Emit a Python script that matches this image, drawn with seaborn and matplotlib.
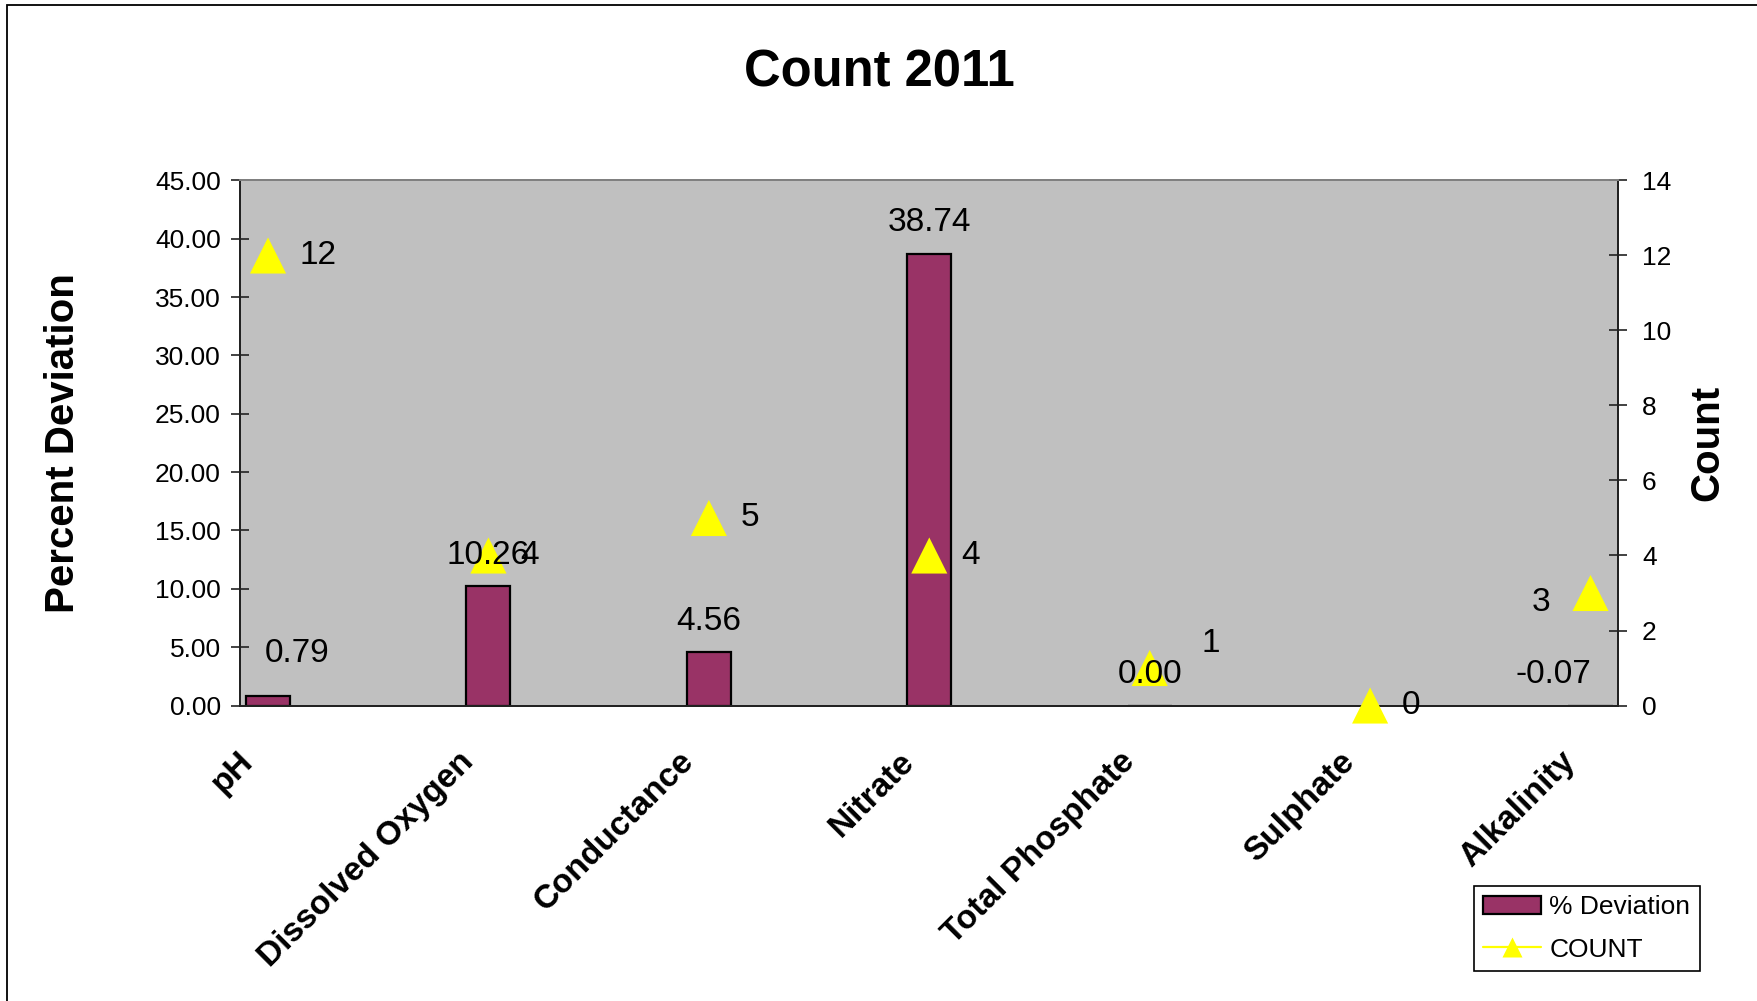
import numpy as np
import pandas as pd
import matplotlib
matplotlib.use("Agg")
import matplotlib.pyplot as plt
import seaborn as sns
from matplotlib.lines import Line2D
from matplotlib.patches import Patch, Rectangle
from matplotlib.transforms import ScaledTranslation

# ---- data -------------------------------------------------------------
parameters = ["pH", "Dissolved Oxygen", "Conductance", "Nitrate",
              "Total Phosphate", "Sulphate", "Alkalinity"]
pct_deviation = [0.79, 10.26, 4.56, 38.74, 0.00, np.nan, -0.07]
counts = [12, 4, 5, 4, 1, 0, 3]

left_ticks = [0, 5, 10, 15, 20, 25, 30, 35, 40, 45]
right_ticks = [0, 2, 4, 6, 8, 10, 12, 14]

# each parameter row in the sheet is followed by three empty rows
ROW_STEP = 4
n_slots = ROW_STEP * (len(parameters) - 1) + 1

df = pd.DataFrame({
    "parameter": parameters,
    "slot": [i * ROW_STEP for i in range(len(parameters))],
    "deviation": pct_deviation,
    "count": counts,
})

# ---- style ------------------------------------------------------------
sns.set_theme(style="white")
plt.rcParams["font.family"] = ["Liberation Sans", "DejaVu Sans"]
plt.rcParams.update({
    "text.color": "black",
    "axes.labelcolor": "black",
    "xtick.color": "black",
    "ytick.color": "black",
})

BAR_COLOR = "#993366"
MARK_COLOR = "#FFFF00"
PLOT_BG = "#C0C0C0"

fig = plt.figure(figsize=(17.58, 10.01), dpi=100)
fig.patch.set_facecolor("white")
ax = fig.add_axes([0.1368, 0.2952, 0.7836, 0.5245])
ax.set_facecolor(PLOT_BG)

sns.barplot(data=df, x="slot", y="deviation", order=list(range(n_slots)),
            width=0.8, color=BAR_COLOR, saturation=1, edgecolor="black",
            linewidth=1.6, errorbar=None, ax=ax, zorder=2)

ax.set_xlim(-0.5, n_slots - 0.5)
ax.set_ylim(0, 45)
ax.set_yticks(left_ticks)
ax.yaxis.set_major_formatter("{x:.2f}")
ax.tick_params(axis="y", direction="inout", length=12.5, width=1.2,
               color="#222222", labelsize=19, pad=8, labelcolor="black")

# category labels sit under each parameter, tick marks between rows
ax.set_xticks(df["slot"])
ax.set_xticklabels(parameters, rotation=45, ha="right", va="center",
                   rotation_mode="anchor", fontsize=24, fontweight="bold",
                   color="black")
ax.tick_params(axis="x", which="major", length=0, pad=37)
ax.set_xticks(np.arange(-0.5, n_slots, 1.0), minor=True)
ax.tick_params(axis="x", which="minor", direction="inout", length=14,
               width=1.2, color="#222222")
shift = ScaledTranslation(-20 / 100, 0, fig.dpi_scale_trans)
for lab in ax.get_xticklabels():
    lab.set_transform(lab.get_transform() + shift)

ax.set_xlabel("")
ax.set_ylabel("Percent Deviation", fontsize=29, fontweight="bold",
              color="black")
ax.yaxis.set_label_coords(-0.115, 0.5)
ax.grid(False)

# ---- count on the secondary axis -------------------------------------
ax2 = ax.twinx()
sns.scatterplot(data=df, x="slot", y="count", marker="^", s=26 ** 2,
                color=MARK_COLOR, edgecolor="none", linewidth=0, ax=ax2,
                zorder=3, clip_on=False)
ax2.set_ylim(0, 14)
ax2.set_yticks(right_ticks)
ax2.tick_params(axis="y", direction="inout", length=12.5, width=1.2,
                color="#222222", labelsize=19, pad=11, labelcolor="black")
ax2.set_xlim(-0.5, n_slots - 0.5)
ax2.set_xlabel("")
ax2.set_ylabel("Count", fontsize=29, fontweight="bold", color="black")
ax2.yaxis.set_label_coords(1.051, 0.5)
ax2.grid(False)

for a in (ax, ax2):
    for side in ("left", "right", "bottom"):
        a.spines[side].set_color("#222222")
        a.spines[side].set_linewidth(1.4)
    a.spines["top"].set_color("#808080")
    a.spines["top"].set_linewidth(1.4)

# ---- value labels ------------------------------------------------------
bar_label_offsets = [(21, 31), (0, 22), (0, 22), (0, 22), (0, 22), (0, 22), (-27, 22)]
for slot, val, (dx, dy) in zip(df["slot"], df["deviation"], bar_label_offsets):
    if np.isnan(val):
        continue
    ax2.annotate(f"{val:.2f}", xy=(slot, max(val, 0)), xycoords=ax.transData,
                 xytext=(dx, dy), textcoords="offset points",
                 ha="center", va="center", fontsize=24, color="black",
                 zorder=5)

count_label_offsets = [(23, 0, "left"), (23, 0, "left"), (23, 0, "left"),
                       (23, 0, "left"), (37, 18, "left"), (23, 0, "left"),
                       (-29, -7, "right")]
for slot, c, (dx, dy, ha) in zip(df["slot"], df["count"], count_label_offsets):
    ax2.annotate(str(c), xy=(slot, c), xytext=(dx, dy),
                 textcoords="offset points", ha=ha, va="center",
                 fontsize=24, color="black", zorder=5)

# ---- title, legend, frame ---------------------------------------------
fig.text(0.5, 0.927, "Count 2011", ha="center", va="center",
         fontsize=36.5, fontweight="bold", color="black")

handles = [
    Patch(facecolor=BAR_COLOR, edgecolor="black", linewidth=1.6,
          label="% Deviation"),
    Line2D([], [], color=MARK_COLOR, linewidth=1.6, marker="^",
           markersize=14, markeredgecolor="none", label="COUNT"),
]
leg = fig.legend(handles=handles, loc="upper left",
                 bbox_to_anchor=(0.8385, 0.1149), borderaxespad=0,
                 fontsize=19, frameon=True, fancybox=False, shadow=False,
                 framealpha=1, edgecolor="black", handlelength=2.2,
                 handletextpad=0.3, labelspacing=0.7, borderpad=0.35)
leg.get_frame().set_linewidth(1.2)
for t in leg.get_texts():
    t.set_color("black")

fig.add_artist(Rectangle((7 / 1758, -1.0), 2.0, 1.0 + (1 - 5 / 1001),
                         transform=fig.transFigure, fill=False,
                         edgecolor="black", linewidth=1.3))

fig.savefig("out.png", dpi=100)
